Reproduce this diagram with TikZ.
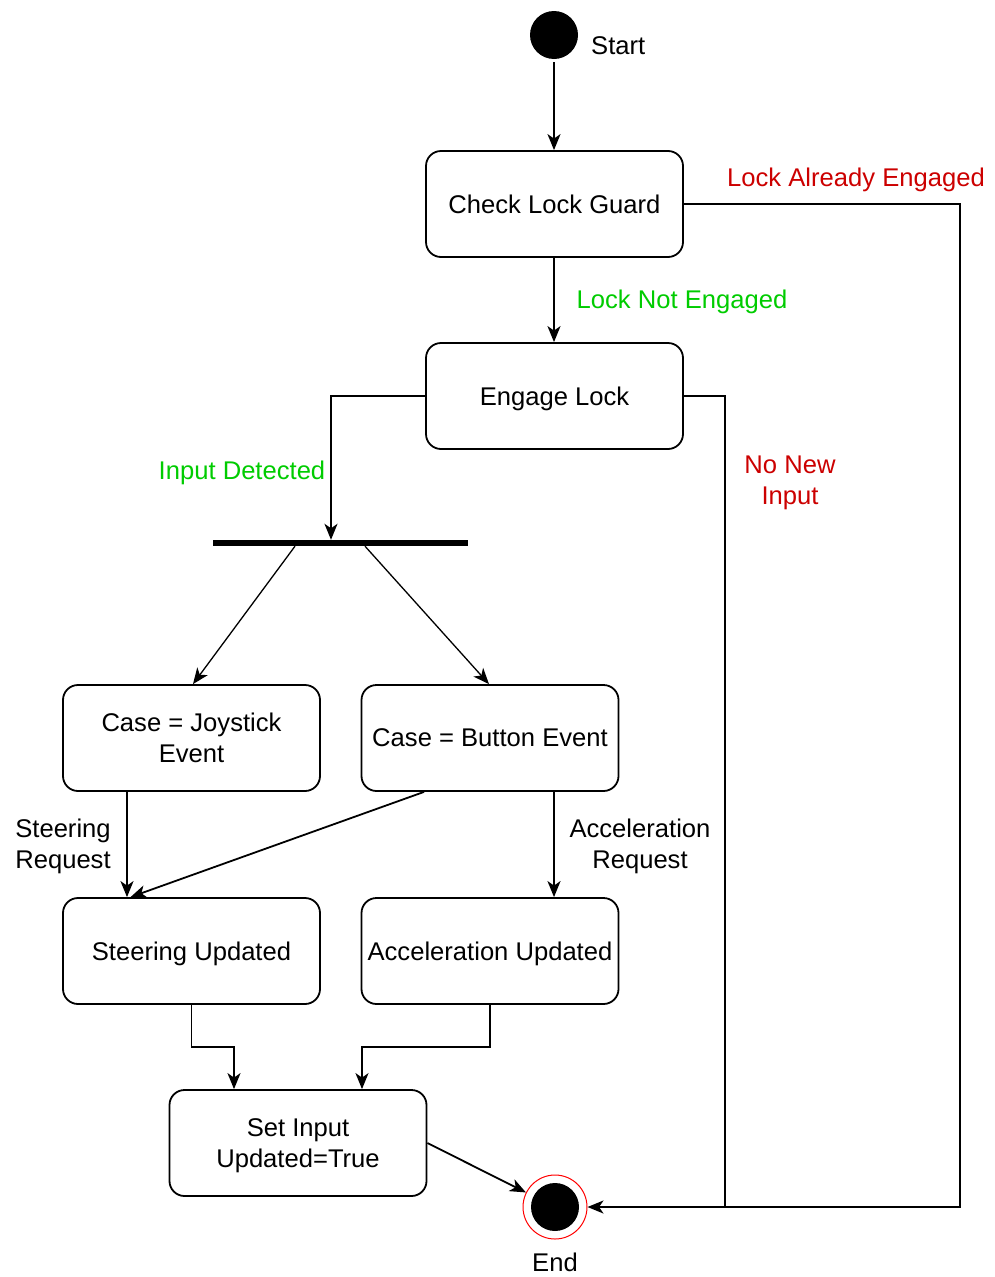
\documentclass[tikz,border=0pt]{standalone}
\usepackage{fontspec}
\setmainfont{Liberation Sans}
\usetikzlibrary{arrows.meta}
\definecolor{lgreen}{RGB}{0,204,0}
\definecolor{lred}{RGB}{204,0,0}
\begin{document}
\begin{tikzpicture}[x=1pt,y=-1pt,
  font=\fontsize{25.6}{31}\selectfont,
  state/.style={draw, line width=1.8pt, rounded corners=15pt, minimum width=257pt, minimum height=106pt, inner sep=2pt, text depth=0pt, align=center},
  arr/.style={line width=1.8pt, -{Stealth[length=16pt,width=13pt,inset=4.5pt]}},
  ln/.style={line width=1.8pt},
  lbl/.style={inner sep=0pt, align=center}]
\useasboundingbox[fill=white] (0,0) rectangle (995,1277);
% nodes
\node[circle, fill=black, minimum size=48pt, inner sep=0pt] (start) at (554,35) {};
\node[lbl, anchor=west] (startl) at (591,46) {Start};
\node[state] (check) at (554.5,204) {Check Lock Guard};
\node[state] (engage) at (554.5,396) {Engage Lock};
\node[fill=black, minimum width=255pt, minimum height=6pt, inner sep=0pt] (fork) at (340.5,543) {};
\node[state] (joy) at (191.5,738) {Case = Joystick\\Event};
\node[state] (btn) at (490,738) {Case = Button Event};
\node[state] (steer) at (191.5,951) {Steering Updated};
\node[state] (acc) at (490,951) {Acceleration Updated};
\node[state] (set) at (298,1143) {Set Input\\Updated=True};
\node[circle, draw=red, line width=1pt, minimum size=64pt, inner sep=0pt] (endo) at (555,1207) {};
\node[circle, fill=black, minimum size=48pt, inner sep=0pt] (endi) at (555,1207) {};
\node[lbl] (endl) at (555,1262) {End};
% labels
\node[lbl, text=lred] (lae) at (856,180) {Lock Already Engaged};
\node[lbl, text=lgreen] (lne) at (682,302) {Lock Not Engaged};
\node[lbl, text=lred] (nni) at (790,483) {No New\\Input};
\node[lbl, text=lgreen] (ind) at (242,473) {Input Detected};
\node[lbl] (sr) at (63,846) {Steering\\Request};
\node[lbl] (ar) at (640,846) {Acceleration\\Request};
% bend coordinates
\coordinate (b1) at (960,204);
\coordinate (b2) at (725,396);
\coordinate (b3) at (725,1207);
\coordinate (b4) at (191.5,1047);
\coordinate (b5) at (490,1047);
% connectors
\draw[arr] ([yshift=-3pt]start.south) -- (start.south |- check.north);
\draw[arr] (start |- check.south) -- (start |- engage.north);
\draw[arr] (check.east) -- (b1) |- (endo.east);
\draw[ln] (engage.east) -- (b2) -- (b3);
\draw[arr] (engage.west) -| ([xshift=-9.5pt]fork.north);
\draw[arr,line width=1.3pt] ([xshift=-45.5pt]fork.south) -- ([xshift=1.5pt]joy.north);
\draw[arr,line width=1.3pt] ([xshift=24.5pt]fork.south) -- ([xshift=-1pt]btn.north);
\draw[arr] ([xshift=-64.5pt]joy.south) -- ([xshift=-64.5pt]steer.north);
\draw[arr] ([xshift=-66pt]btn.south) -- ([xshift=-61pt]steer.north);
\draw[arr] ([xshift=64pt]btn.south) -- ([xshift=64pt]acc.north);
\draw[arr] (steer.south) -- (b4) -| ([xshift=-64pt]set.north);
\draw[arr] (acc.south) -- (b5) -| ([xshift=64pt]set.north);
\draw[arr] (set.east) -- (endo);
\end{tikzpicture}
\end{document}
